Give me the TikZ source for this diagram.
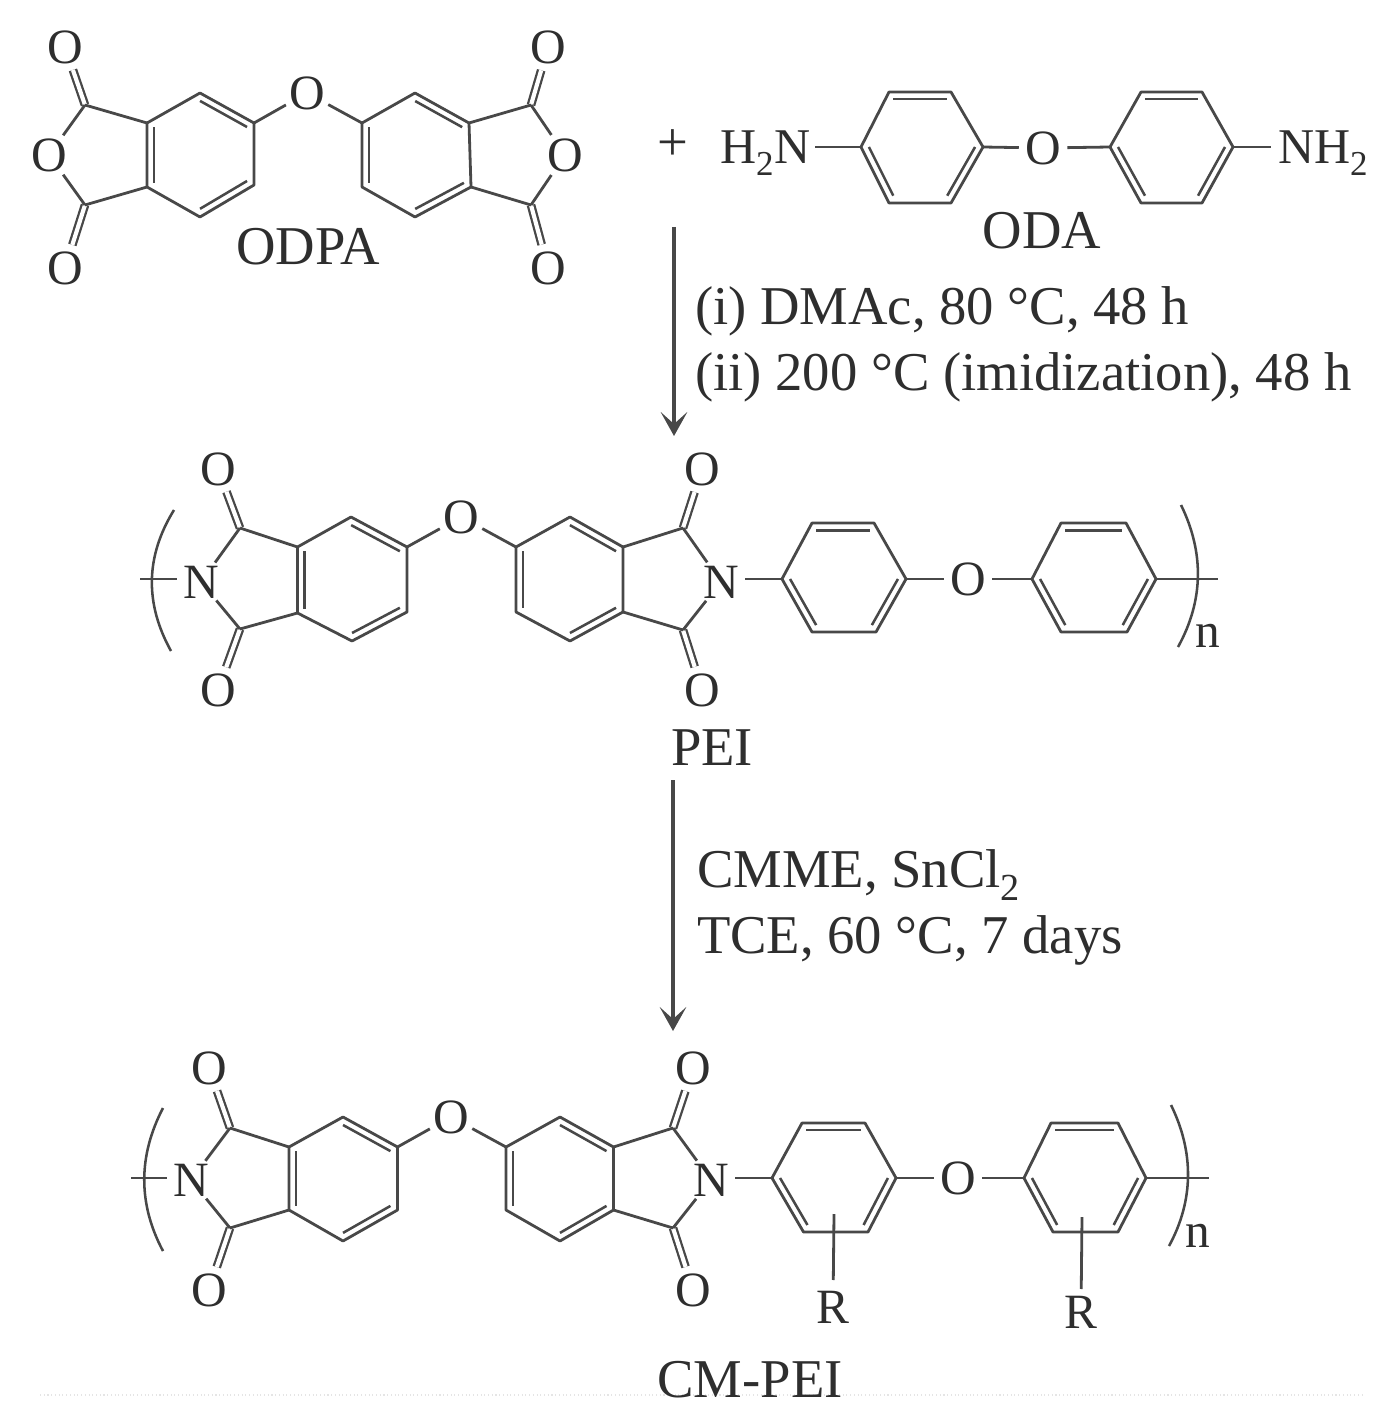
\documentclass[tikz,border=0pt]{standalone}
\usepackage{fontspec}
\setmainfont{Liberation Serif}
\usetikzlibrary{calc,arrows.meta}
\definecolor{bondc}{HTML}{484848}
\definecolor{textc}{HTML}{2E2E2E}
\tikzset{
  bond/.style={draw=bondc,line width=2.1pt,line join=round},
  thinbond/.style={draw=bondc,line width=1.9pt},
  cdo/.style={draw=bondc,line width=1.7pt,double=white,double distance=3.1pt},
  atom/.style={circle,inner sep=0pt,outer sep=0pt,minimum size=31pt,text=textc,font=\fontsize{37}{38}\selectfont},
  lab/.style={inner sep=0pt,outer sep=0pt,text=textc,font=\fontsize{41}{42}\selectfont},
  amine/.style={inner sep=0pt,outer sep=0pt,text=textc,font=\fontsize{37.5}{38}\selectfont},
  poly/.style={inner sep=0pt,outer sep=0pt,text=textc,font=\fontsize{37}{38}\selectfont},
  rxn/.style={draw=bondc,line width=3pt,-{Stealth[length=18pt,width=20pt,inset=9pt]}},
  brack/.style={draw=bondc,line width=1.9pt}
}
% six-membered ring: a..f run clockwise from the left/upper-left vertex
\newcommand{\ringat}[7]{%
  \coordinate (#1a) at (#2); \coordinate (#1b) at (#3); \coordinate (#1c) at (#4);
  \coordinate (#1d) at (#5); \coordinate (#1e) at (#6); \coordinate (#1f) at (#7);
  \coordinate (#1o) at ($(#1a)!.5!(#1d)$);
  \draw[bond] (#1a)--(#1b)--(#1c)--(#1d)--(#1e)--(#1f)--cycle;
  \draw[thinbond] ($(#1a)!.13!(#1o)$)--($(#1f)!.13!(#1o)$);
  \draw[thinbond] ($(#1b)!.13!(#1o)$)--($(#1c)!.13!(#1o)$);
  \draw[thinbond] ($(#1d)!.13!(#1o)$)--($(#1e)!.13!(#1o)$);
}
% carbonyl: carbon name, carbon position, oxygen position
\newcommand{\carbonyl}[3]{%
  \coordinate (#1) at (#2);
  \node[atom] (#1O) at (#3) {O};
  \draw[cdo] (#1)--(#1O);
}
% five-membered ring closure: C1, C2, hetero atom, fused vertices
\newcommand{\fivering}[5]{%
  \draw[bond] (#1)--(#3); \draw[bond] (#2)--(#3);
  \draw[bond] (#1)--(#4); \draw[bond] (#2)--(#5);
}
\begin{document}
\begin{tikzpicture}[x=0.75pt,y=-0.75pt]
\useasboundingbox (0,0) rectangle (1384,1419);
\draw[draw=black!10,line width=.8pt,dotted] (40,1395)--(1362,1395);

% ----- ODPA
\ringat{A}{147,123}{200,93}{254,123}{254,185}{200,217}{147,187}
\ringat{B}{362,123}{415,93}{469,123}{471,187}{415,217}{362,187}
\carbonyl{A1}{85,105}{65,47}
\carbonyl{A2}{85,205}{65,268}
\carbonyl{B1}{531,105}{548,47}
\carbonyl{B2}{531,205}{548,268}
\node[atom] (AX) at (49,155) {O};
\node[atom] (BX) at (565,155) {O};
\fivering{A1}{A2}{AX}{Aa}{Af}
\fivering{B1}{B2}{BX}{Bc}{Bd}
\node[atom] (AB) at (307,93) {O};
\draw[bond] (Ac)--(AB); \draw[bond] (AB)--(Ba);
\node[lab] (odpa) at (308,247) {ODPA};
\node[lab] (plus) at (673,145) {+};

% ----- ODA
\ringat{C}{861,147}{889,92}{951,92}{983,147}{951,203}{889,203}
\ringat{D}{1110,147}{1141,92}{1202,92}{1233,147}{1202,203}{1141,203}
\node[atom] (CD) at (1043,148) {O};
\draw[bond] (Cd)--(CD); \draw[bond] (CD)--(Da);
\node[amine,anchor=base west] (h2n) at (720,164) {H\textsubscript{2}N};
\node[amine,anchor=base west] (nh2) at (1278,164) {NH\textsubscript{2}};
\draw[bond] ([xshift=3.5pt]h2n.east |- Ca)--(Ca);
\draw[bond] (Dd)--([xshift=-5pt]nh2.west |- Dd);
\node[lab] (oda) at (1042,231) {ODA};

% ----- first arrow
\coordinate (ar1s) at (674,227);
\coordinate (ar1e) at (674,436);
\draw[rxn] (ar1s)--(ar1e);
\node[lab,anchor=base west] (c1) at (695,325) {(i) DMAc, 80 °C, 48 h};
\node[lab,anchor=base west] (c2) at (695,390) {(ii) 200 °C (imidization), 48 h};

% ----- PEI
\ringat{E}{297.5,547}{351,517}{407,547}{407,612}{352,641}{297.5,613}
\ringat{F}{516,547}{570,517}{623,547}{623,612}{570,641}{516,612}
\carbonyl{E1}{240,528}{218,469}
\carbonyl{E2}{240,629}{218,690}
\carbonyl{F1}{683,528}{702,469}
\carbonyl{F2}{683,630}{702,690}
\node[atom] (EX) at (201,582) {N};
\node[atom] (FX) at (721,582) {N};
\fivering{E1}{E2}{EX}{Ea}{Ef}
\fivering{F1}{F2}{FX}{Fc}{Fd}
\node[atom] (EF) at (461,517) {O};
\draw[bond] (Ec)--(EF); \draw[bond] (EF)--(Fa);
\ringat{G}{782,579}{812,523}{874,523}{906,579}{876,632}{812,632}
\ringat{H}{1032,579}{1061,523}{1126,523}{1156,579}{1127,632}{1061,632}
\node[atom] (GH) at (968,579) {O};
\draw[bond] (FX.east |- Ga)--(Ga);
\draw[bond] (Gd)--(GH); \draw[bond] (GH)--(Ha);
\coordinate (Eend) at (140,579);
\coordinate (Hend) at (1218,579);
\draw[bond] (Eend)--(EX.west |- Eend);
\draw[bond] (Hd)--(Hend);
\draw[brack] (174,510) .. controls (145,557) and (145,604) .. (171,651);
\draw[brack] (1181,505) .. controls (1204,552) and (1204,600) .. (1178,647);
\node[poly,anchor=base west] (n1) at (1195,647) {n};
\node[lab,anchor=base] (pei) at (712,765) {PEI};

% ----- second arrow
\coordinate (ar2s) at (673,780);
\coordinate (ar2e) at (673,1031);
\draw[rxn] (ar2s)--(ar2e);
\node[lab,anchor=base west] (c3) at (697,887) {CMME, SnCl\textsubscript{2}};
\node[lab,anchor=base west] (c4) at (697,953) {TCE, 60 °C, 7 days};

% ----- CM-PEI
\ringat{J}{289,1147}{343,1117}{397.5,1147}{397.5,1210}{343,1241}{289,1210}
\ringat{K}{506,1147}{560,1117}{613.5,1147}{613.5,1210}{560,1241}{506,1210}
\carbonyl{J1}{230,1128}{209,1068}
\carbonyl{J2}{230,1228}{209,1290}
\carbonyl{K1}{673,1128}{693,1068}
\carbonyl{K2}{673,1228}{693,1290}
\node[atom] (JX) at (191,1180) {N};
\node[atom] (KX) at (711,1180) {N};
\fivering{J1}{J2}{JX}{Ja}{Jf}
\fivering{K1}{K2}{KX}{Kc}{Kd}
\node[atom] (JK) at (451,1117) {O};
\draw[bond] (Jc)--(JK); \draw[bond] (JK)--(Ka);
\ringat{L}{772,1178}{802,1123}{865,1123}{896,1178}{868,1232}{803.5,1232}
\ringat{M}{1024,1178}{1051,1123}{1118,1123}{1146,1178}{1118,1232}{1053,1232}
\node[atom] (LM) at (958,1178) {O};
\draw[bond] (KX.east |- La)--(La);
\draw[bond] (Ld)--(LM); \draw[bond] (LM)--(Ma);
\coordinate (Jend) at (131,1178);
\coordinate (Mend) at (1209,1178);
\draw[bond] (Jend)--(JX.west |- Jend);
\draw[bond] (Md)--(Mend);
\draw[brack] (163,1108) .. controls (138,1156) and (138,1204) .. (163,1251);
\draw[brack] (1171,1105) .. controls (1194,1152) and (1194,1200) .. (1169,1246);
\node[poly,anchor=base west] (n2) at (1185,1247) {n};
\node[atom] (R1) at (833,1307) {R};
\node[atom] (R2) at (1081,1312) {R};
\coordinate (R1top) at (834,1214);
\coordinate (R2top) at (1082,1217);
\draw[bond,shorten >=3pt] (R1top)--(R1);
\draw[bond] (R2top)--(R2);
\node[lab,anchor=base] (cmpei) at (750,1397) {CM-PEI};
\end{tikzpicture}
\end{document}
